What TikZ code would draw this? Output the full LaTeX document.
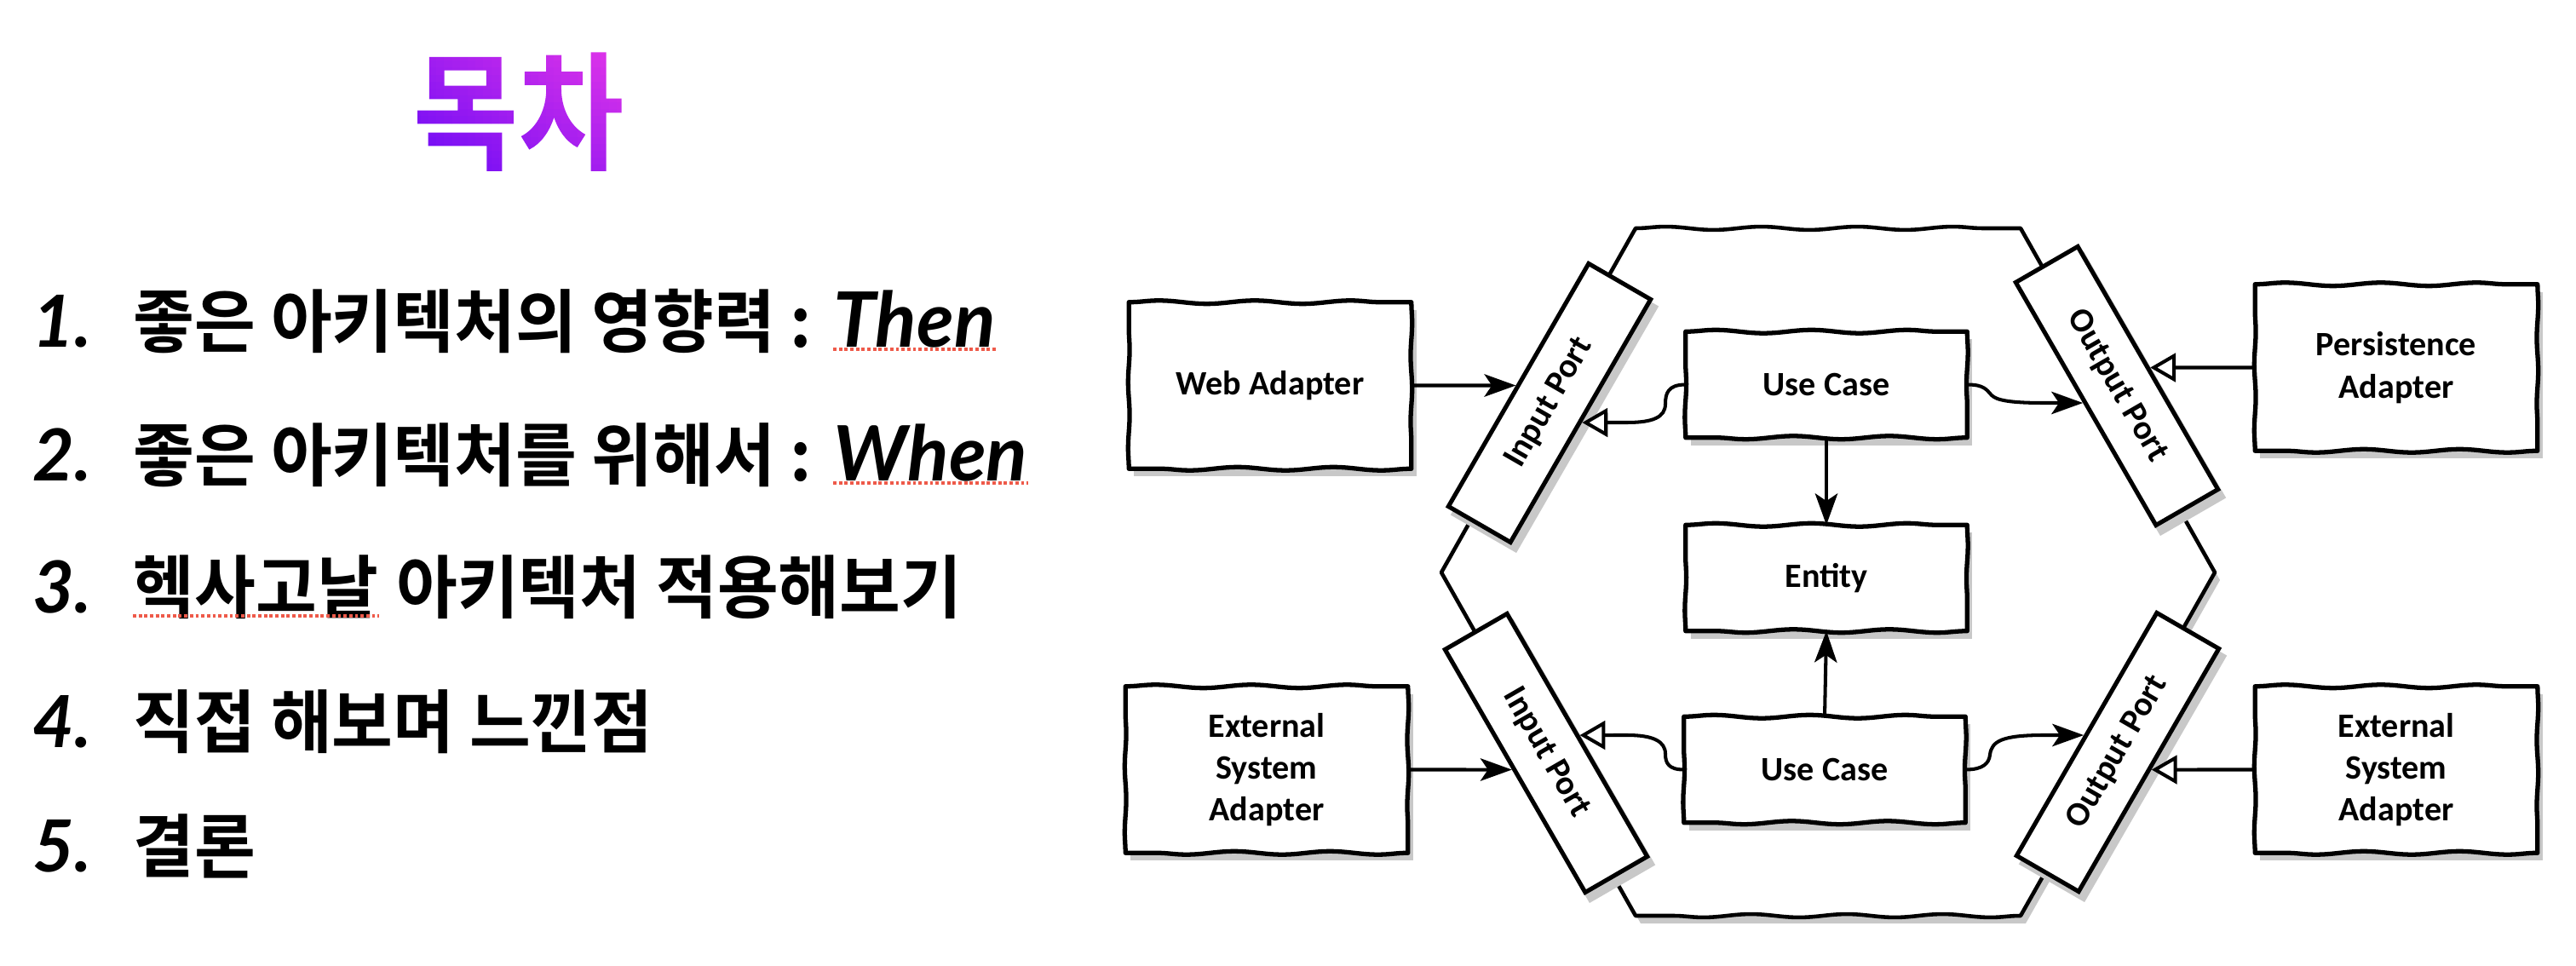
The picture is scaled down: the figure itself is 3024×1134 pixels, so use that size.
\documentclass[tikz,border=0pt]{standalone}
\usepackage{fontspec}
\usetikzlibrary{arrows.meta,decorations.pathmorphing,calc}
\newfontfamily\krb{Noto Sans CJK KR Bold}[FakeStretch=0.965]
\newfontfamily\ttlfont{Noto Sans CJK KR Bold}[FakeStretch=0.89]
\newfontfamily\latb{Lato}
\newfontfamily\diagfont{Carlito}
\pgfdeclarelayer{bglayer}
\pgfdeclarelayer{hexshadow}
\pgfdeclarelayer{hexlayer}
\pgfdeclarelayer{shadowlayer}
\pgfsetlayers{bglayer,hexshadow,hexlayer,shadowlayer,main}
\definecolor{shadowc}{HTML}{C8C8C8}
\definecolor{spellred}{HTML}{EE5A4A}
\definecolor{tA}{HTML}{6A0AF6}
\definecolor{tB}{HTML}{E536E8}
\newsavebox{\ttlbox}
\newlength{\ttlw}\newlength{\ttlh}\newlength{\ttld}\newlength{\cellw}\newlength{\cellh}
\newcommand{\gradtext}[1]{%
  \sbox{\ttlbox}{#1}%
  \setlength{\ttlw}{\wd\ttlbox}\setlength{\ttlh}{\ht\ttlbox}\setlength{\ttld}{\dp\ttlbox}%
  \setlength{\cellw}{\ttlw}\divide\cellw by 28 \addtolength{\cellw}{0.1pt}%
  \setlength{\cellh}{\ttlh}\addtolength{\cellh}{\ttld}\divide\cellh by 18 \addtolength{\cellh}{0.1pt}%
  \special{pdf:literal direct q 7 Tr}%
  \rlap{#1}%
  \rlap{\raisebox{-\ttld}{\vbox{\offinterlineskip\foreach \r in {17,16,...,0}{\hbox{\foreach \c in {0,...,27}{\pgfmathtruncatemacro\p{100*(\c/27*0.55+\r/17*0.45)}\textcolor{tB!\p!tA}{\rule{\cellw}{\cellh}}}}}}}}%
  \special{pdf:literal direct Q}%
  \hbox to \ttlw{\vrule width 0pt height \ttlh depth \ttld\hfil}}
\tikzset{
  dfont/.style={font=\diagfont\bfseries\fontsize{11.4pt}{14pt}\selectfont},
  corebox/.style={dfont, fill=white, inner sep=0pt, minimum width=93.6pt, minimum height=35pt, align=center},
  adbox/.style={dfont, fill=white, inner sep=0pt, minimum width=93.9pt, minimum height=55.2pt, align=center},
  portbox/.style={dfont, fill=white, draw=black, line width=1.45pt, inner sep=0pt, minimum width=93.6pt, minimum height=23.9pt},
  wavyH/.style={decoration={snake, amplitude=0.55pt, segment length=32pt}},
  wavyV/.style={decoration={snake, amplitude=0.25pt, segment length=22pt}},
  skline/.style={draw=black, line width=1.5pt, line join=round},
  arr/.style={line width=1.15pt, -{Stealth[length=10.5pt, width=7.5pt, inset=2.5pt]}},
  harr/.style={line width=1.15pt, -{Triangle[open, length=8.5pt, width=9.5pt, fill=white]}},
  shadowfill/.style={fill=shadowc},
  spell/.style={draw=spellred, line width=0.95pt, dash pattern=on 1.1pt off 0.8pt},
  numtxt/.style={anchor=base west, inner sep=0pt, font=\latb\bfseries\itshape\fontsize{24pt}{24pt}\selectfont},
  krtxt/.style={anchor=base west, inner sep=0pt, font=\krb\fontsize{23pt}{23pt}\selectfont},
  lattxt/.style={anchor=base west, inner sep=0pt, font=\latb\bfseries\itshape\fontsize{25.5pt}{25.5pt}\selectfont},
}
\newcommand{\sketchrect}[1]{%
  \draw[skline] (#1.north west) decorate[wavyH]{-- (#1.north east)} decorate[wavyV]{-- (#1.south east)} decorate[wavyH]{-- (#1.south west)} decorate[wavyV]{-- (#1.north west)} -- cycle;}
\newcommand{\boxshadow}[1]{%
  \fill[shadowfill] ([shift={(6,9)}]#1.north west) -- ([shift={(6,9)}]#1.north east) -- ([shift={(6,9)}]#1.south east) -- ([shift={(6,9)}]#1.south west) -- cycle;}
\begin{document}
\begin{tikzpicture}[x=0.01cm, y=-0.01cm]
\useasboundingbox (0,0) rectangle (3024,1134);
\begin{pgfonlayer}{bglayer}
  \fill[white] (0,0) rectangle (3024,1134);
\end{pgfonlayer}

% ---------- title (gradient text) ----------
\node[inner sep=0pt, anchor=base west, font=\ttlfont\fontsize{43pt}{43pt}\selectfont] (title) at (484,188) {\gradtext{목차}};

% ---------- list ----------
\node[numtxt] (n1) at (38,408) {1.};
\node[krtxt] (k1) at (156,408) {좋은 아키텍처의 영향력 :};
\node[lattxt] (l1) at ($(k1.base east)+(24,0)$) {Then};
\node[numtxt] (n2) at (38,565) {2.};
\node[krtxt] (k2) at (156,565) {좋은 아키텍처를 위해서 :};
\node[lattxt] (l2) at ($(k2.base east)+(24,0)$) {When};
\node[numtxt] (n3) at (38,720) {3.};
\node[krtxt] (k3a) at (156,720) {헥사고날};
\node[krtxt] (k3b) at ($(k3a.base east)+(20,0)$) {아키텍처 적용해보기};
\node[numtxt] (n4) at (38,877) {4.};
\node[krtxt] (k4) at (156,877) {직접 해보며 느낀점};
\node[numtxt] (n5) at (38,1023) {5.};
\node[krtxt] (k5) at (156,1023) {결론};
\draw[spell] ($(l1.base west)+(0,2)$) -- ($(l1.base east)+(0,2)$);
\draw[spell] ($(l2.base west)+(0,2)$) -- ($(l2.base east)+(0,2)$);
\draw[spell] ($(k3a.base west)+(0,3)$) -- ($(k3a.base east)+(0,3)$);

% ---------- hexagon ----------
\begin{pgfonlayer}{hexshadow}
  \fill[shadowfill, shift={(6,9)}] (1920,268) -- (2372,268) -- (2600,672) -- (2372,1075) -- (1920,1075) -- (1692,672) -- cycle;
\end{pgfonlayer}
\begin{pgfonlayer}{hexlayer}
  \filldraw[fill=white, skline, line width=1.3pt] (1920,268) decorate[wavyH]{-- (2372,268)} -- (2600,672) -- (2372,1075) decorate[wavyH]{-- (1920,1075)} -- (1692,672) -- cycle;
\end{pgfonlayer}

% ---------- boxes ----------
\node[adbox] (web) at (1491,452.5) {Web Adapter};
\node[adbox] (pers) at (2813,431.5) {Persistence\\Adapter};
\node[adbox] (extl) at (1487,903.5) {External\\System\\Adapter};
\node[adbox] (extr) at (2813,903.5) {External\\System\\Adapter};
\node[corebox] (uc1) at (2144,451.5) {Use Case};
\node[corebox] (ent) at (2144,678.5) {Entity};
\node[corebox] (uc2) at (2142,903.5) {Use Case};
\node[portbox, rotate=60] (ipu) at (1819,473) {Input Port};
\node[portbox, rotate=-60] (opu) at (2485,453) {Output Port};
\node[portbox, rotate=-60] (ipl) at (1815,884) {Input Port};
\node[portbox, rotate=60] (opl) at (2486,883) {Output Port};

\foreach \b in {web,pers,extl,extr,uc1,ent,uc2} {\sketchrect{\b}}
\begin{pgfonlayer}{shadowlayer}
  \foreach \b in {web,pers,extl,extr,uc1,ent,uc2,ipu,opu,ipl,opl} {\boxshadow{\b}}
\end{pgfonlayer}

% ---------- connectors ----------
\coordinate (webR) at ($(web.east)+(40,0)$);
\coordinate (a1e) at (intersection of web.east--webR and ipu.north west--ipu.north east);
\draw[arr] (web.east) -- (a1e);

\coordinate (a2e) at (intersection of 1900,496--1950,496 and ipu.south west--ipu.south east);
\draw[harr] (uc1.west) .. controls (1958,451.5) and (1955,462) .. (1955,474) .. controls (1955,490) and (1940,496) .. (1910,496) -- (a2e);

\draw[arr] (uc1.south) -- (ent.north);
\draw[arr] (uc2.north) -- (ent.south);

\coordinate (a4e) at (intersection of 2380,473--2420,473 and opu.south west--opu.south east);
\draw[arr] (uc1.east) .. controls (2330,451.5) and (2332,458) .. (2338,464) .. controls (2344,470) and (2360,473) .. (2400,473) -- (a4e);

\coordinate (persL) at ($(pers.west)+(-40,0)$);
\coordinate (a5e) at (intersection of pers.west--persL and opu.north west--opu.north east);
\draw[harr] (pers.west) -- (a5e);

\coordinate (extlR) at ($(extl.east)+(40,0)$);
\coordinate (a8e) at (intersection of extl.east--extlR and ipl.south west--ipl.south east);
\draw[arr] (extl.east) -- (a8e);

\coordinate (a7e) at (intersection of 1900,863--1950,863 and ipl.north west--ipl.north east);
\draw[harr] (uc2.west) .. controls (1958,903.5) and (1955,895) .. (1955,885) .. controls (1955,870) and (1940,863) .. (1910,863) -- (a7e);

\coordinate (a9e) at (intersection of 2380,863--2420,863 and opl.north west--opl.north east);
\draw[arr] (uc2.east) .. controls (2328,903.5) and (2335,896) .. (2336,886) .. controls (2338,870) and (2350,863) .. (2400,863) -- (a9e);

\coordinate (extrL) at ($(extr.west)+(-40,0)$);
\coordinate (a10e) at (intersection of extr.west--extrL and opl.south west--opl.south east);
\draw[harr] (extr.west) -- (a10e);
\end{tikzpicture}
\end{document}
